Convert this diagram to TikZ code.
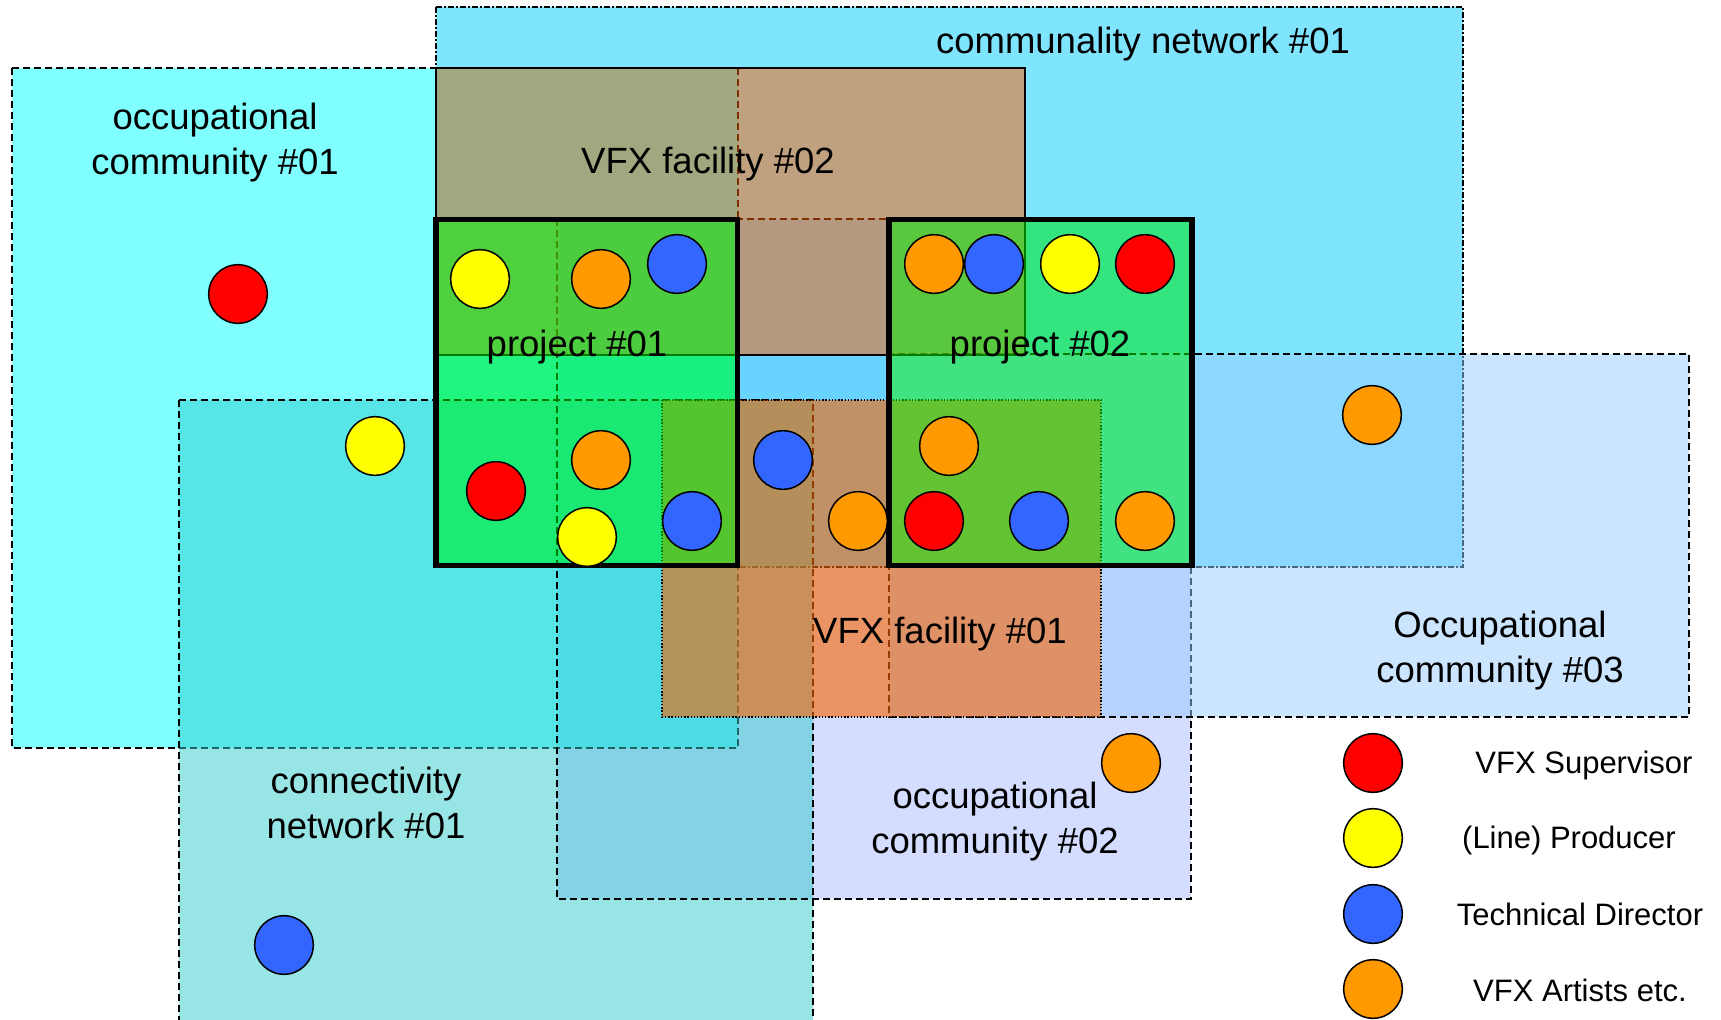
\documentclass[tikz,border=0pt]{standalone}
\usepackage{fontspec}
\setmainfont{Liberation Sans}

% fill colours of the zones (used half transparent)
\definecolor{ocOneFill}{RGB}{0,255,255}
\definecolor{ocTwoFill}{RGB}{170,186,255}
\definecolor{ocThreeFill}{RGB}{153,204,255}
\definecolor{communalFill}{RGB}{0,204,255}
\definecolor{connectFill}{RGB}{51,204,204}
\definecolor{facilityTwoFill}{RGB}{255,95,0}
\definecolor{facilityOneFill}{RGB}{250,100,0}
\definecolor{projectFill}{RGB}{0,248,0}
% role colours
\definecolor{supRed}{RGB}{255,0,0}
\definecolor{prodYellow}{RGB}{255,255,0}
\definecolor{tdBlue}{RGB}{51,102,255}
\definecolor{artistOrange}{RGB}{255,153,0}

\begin{document}
\begin{tikzpicture}[x=0.5pt,y=-0.5pt,
  zone/.style={line width=0.7pt, draw=black},
  dashzone/.style={zone, dash pattern=on 3.5pt off 2pt},
  dashdotzone/.style={zone, dash pattern=on 3pt off 1.2pt on 0.6pt off 1.2pt},
  dotzone/.style={zone, dash pattern=on 0.7pt off 0.9pt},
  projbox/.style={line width=2.75pt, draw=black, fill=projectFill, fill opacity=0.5},
  zonelabel/.style={font=\fontsize{18.25}{22.5}\selectfont, align=center, anchor=base, inner sep=0pt},
  legendtext/.style={font=\fontsize{15.5}{18}\selectfont, anchor=base, inner sep=0pt},
  person/.style={circle, draw=black, line width=0.75pt, minimum size=29.3pt, inner sep=0pt},
  vsup/.style={person, fill=supRed},
  prod/.style={person, fill=prodYellow},
  tdir/.style={person, fill=tdBlue},
  artist/.style={person, fill=artistOrange}]

\useasboundingbox (0,0) rectangle (1721,1019);
\fill[white] (0,0) rectangle (1721,1019);
\clip (0,0) rectangle (1721,1019);

% ---- zones, back to front ----
% occupational community #02 (fill only, outline later)
\fill[ocTwoFill, fill opacity=0.5] (557,219) rectangle (1191,899);
% communality network #01
\filldraw[dashdotzone, fill=communalFill, fill opacity=0.5] (436,7) rectangle (1463,567);
% occupational community #01
\filldraw[dashzone, fill=ocOneFill, fill opacity=0.5] (12,68) rectangle (738,748);
% connectivity network #01 (runs off the bottom edge)
\filldraw[dashzone, fill=connectFill, fill opacity=0.5] (179,400) rectangle (813,1040);
% outline of occupational community #02
\draw[dashzone] (557,219) rectangle (1191,899);
% occupational community #03
\filldraw[dashzone, fill=ocThreeFill, fill opacity=0.5] (889,354) rectangle (1689,717);
% VFX facility #02
\filldraw[zone, fill=facilityTwoFill, fill opacity=0.5] (436,68) rectangle (1025,355);
% VFX facility #01
\filldraw[dotzone, fill=facilityOneFill, fill opacity=0.6] (662,400) rectangle (1101,717);
% projects
\filldraw[projbox] (436,219.5) rectangle (737.5,565.5);
\filldraw[projbox] (889,219.5) rectangle (1192,565.5);

% ---- zone labels (two-line labels sit on the baseline of their last line) ----
\node[zonelabel] (lcomm) at (1143,53) {communality network \#01};
\node[zonelabel] (locc1) at (215,174) {occupational\\community \#01};
\node[zonelabel] (lfac2) at (708,173) {VFX facility \#02};
\node[zonelabel] (lproj1) at (577,356) {project \#01};
\node[zonelabel] (lproj2) at (1040,356) {project \#02};
\node[zonelabel] (lfac1) at (940,643) {VFX facility \#01};
\node[zonelabel] (locc3) at (1500,682) {Occupational\\community \#03};
\node[zonelabel] (locc2) at (995,853) {occupational\\community \#02};
\node[zonelabel] (lconn) at (366,838) {connectivity\\network \#01};

% ---- people ----
\node[vsup]   (p1)  at (238,294) {};
\node[prod]   (p2)  at (480,279) {};
\node[artist] (p3)  at (601,279) {};
\node[tdir]   (p4)  at (677,264) {};
\node[prod]   (p5)  at (375,446) {};
\node[vsup]   (p6)  at (496,491) {};
\node[artist] (p7)  at (601,460) {};
\node[prod]   (p8)  at (587,537) {};
\node[tdir]   (p9)  at (692,521) {};
\node[tdir]   (p10) at (783,460) {};
\node[artist] (p11) at (858,521) {};
\node[artist] (p12) at (934,264) {};
\node[tdir]   (p13) at (994,264) {};
\node[prod]   (p14) at (1070,264) {};
\node[vsup]   (p15) at (1145,264) {};
\node[artist] (p16) at (949,446) {};
\node[vsup]   (p17) at (934,521) {};
\node[tdir]   (p18) at (1039,521) {};
\node[artist] (p19) at (1145,521) {};
\node[artist] (p20) at (1372,415) {};
\node[artist] (p21) at (1131,763) {};
\node[tdir]   (p22) at (284,945) {};

% ---- legend ----
\node[vsup]   (k1) at (1373,763) {};
\node[prod]   (k2) at (1373,838) {};
\node[tdir]   (k3) at (1373,914) {};
\node[artist] (k4) at (1373,989) {};
\node[legendtext] (t1) at (1584,773) {VFX Supervisor};
\node[legendtext] (t2) at (1569,848) {(Line) Producer};
\node[legendtext] (t3) at (1580,925) {Technical Director};
\node[legendtext] (t4) at (1580,1001) {VFX Artists etc.};
\end{tikzpicture}
\end{document}
